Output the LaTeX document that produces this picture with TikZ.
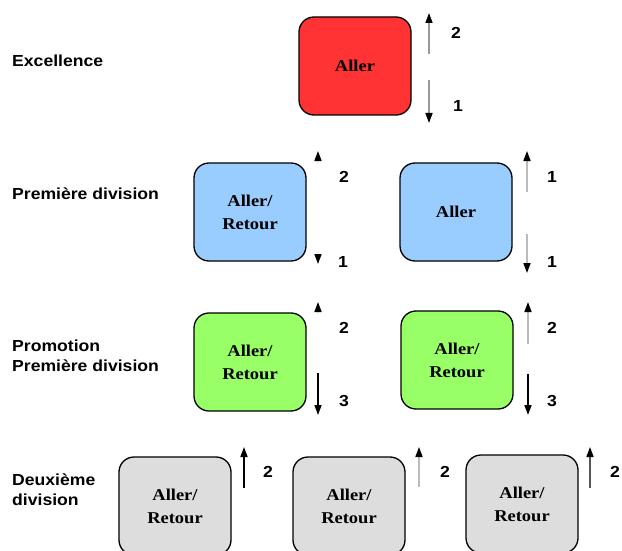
\documentclass[tikz,border=0pt]{standalone}
\usepackage{fontspec}
\setmainfont[FakeStretch=1.12]{Liberation Serif}
\newfontfamily\lsans[FakeStretch=1.1]{Liberation Sans}
\usetikzlibrary{arrows.meta}
\definecolor{boxred}{HTML}{FF3333}
\definecolor{boxblue}{HTML}{99CCFF}
\definecolor{boxgreen}{HTML}{99FF66}
\definecolor{boxgray}{HTML}{DDDDDD}
\definecolor{shaftgray}{HTML}{999999}
\definecolor{shaftlight}{HTML}{BBBBBB}
\definecolor{shaftfaint}{HTML}{F4F4F4}
\definecolor{shaftdark}{HTML}{555555}
\begin{document}
\begin{tikzpicture}[x=1pt,y=-1pt,
 box/.style={draw=black, line width=1.3pt, rounded corners=15pt, minimum width=112pt, minimum height=98pt, inner sep=0pt, align=center, font=\fontsize{16.5}{23}\selectfont\bfseries},
 lvl/.style={anchor=west, align=left, inner sep=0pt, font=\lsans\fontsize{16}{20}\selectfont\bfseries},
 num/.style={inner sep=0pt, font=\lsans\fontsize{16}{17}\selectfont\bfseries},
 mv/.style={line width=1.6pt, -{Triangle[length=10pt,width=7pt,color=black]}}
]
\clip (0,0) rectangle (622,551);
\fill[white] (0,0) rectangle (622,551);

% level labels
\node[lvl] (l1) at (12,61) {Excellence};
\node[lvl] (l2) at (12,194) {Première division};
\node[lvl] (l3) at (12,356) {Promotion\\Première division};
\node[lvl] (l4) at (12,490) {Deuxième\\division};

% boxes
\node[box, fill=boxred] (r) at (355,66) {Aller};
\node[box, fill=boxblue] (b1) at (250,212) {Aller/\\Retour};
\node[box, fill=boxblue] (b2) at (456,212) {Aller};
\node[box, fill=boxgreen] (g1) at (250,362) {Aller/\\Retour};
\node[box, fill=boxgreen] (g2) at (457,360) {Aller/\\Retour};
\node[box, fill=boxgray] (d1) at (175,506) {Aller/\\Retour};
\node[box, fill=boxgray] (d2) at (349,506) {Aller/\\Retour};
\node[box, fill=boxgray] (d3) at (522,504) {Aller/\\Retour};

% arrow end points
\coordinate (ru0) at (429,54);  \coordinate (ru1) at (429,13);
\coordinate (rd0) at (429,80);  \coordinate (rd1) at (429,123);
\coordinate (b1u0) at (318,165); \coordinate (b1u1) at (318,151);
\coordinate (b1d0) at (318,252); \coordinate (b1d1) at (318,264);
\coordinate (b2u0) at (527,192); \coordinate (b2u1) at (527,151);
\coordinate (b2d0) at (527,234); \coordinate (b2d1) at (527,273);
\coordinate (g1u0) at (318,315); \coordinate (g1u1) at (318,302);
\coordinate (g1d0) at (318,373); \coordinate (g1d1) at (318,415);
\coordinate (g2u0) at (528,344); \coordinate (g2u1) at (528,302);
\coordinate (g2d0) at (528,374); \coordinate (g2d1) at (528,415);
\coordinate (d1u0) at (244,488); \coordinate (d1u1) at (244,447);
\coordinate (d2u0) at (419,487); \coordinate (d2u1) at (419,447);
\coordinate (d3u0) at (590,488); \coordinate (d3u1) at (590,447);

% arrows
\draw[mv, shaftgray] (ru0) -- (ru1);
\draw[mv, shaftgray] (rd0) -- (rd1);
\draw[mv, shaftfaint] (b1u0) -- (b1u1);
\draw[mv, shaftfaint] (b1d0) -- (b1d1);
\draw[mv, shaftlight] (b2u0) -- (b2u1);
\draw[mv, shaftlight] (b2d0) -- (b2d1);
\draw[mv, shaftfaint] (g1u0) -- (g1u1);
\draw[mv, black] (g1d0) -- (g1d1);
\draw[mv, shaftlight] (g2u0) -- (g2u1);
\draw[mv, black] (g2d0) -- (g2d1);
\draw[mv, black] (d1u0) -- (d1u1);
\draw[mv, shaftlight] (d2u0) -- (d2u1);
\draw[mv, shaftdark] (d3u0) -- (d3u1);

% numbers
\node[num] (n1) at (456,33) {2};
\node[num] (n2) at (458,106) {1};
\node[num] (n3) at (344,177) {2};
\node[num] (n4) at (343,262) {1};
\node[num] (n5) at (552,177) {1};
\node[num] (n6) at (552,262) {1};
\node[num] (n7) at (344,328) {2};
\node[num] (n8) at (344,401) {3};
\node[num] (n9) at (552,328) {2};
\node[num] (n10) at (552,401) {3};
\node[num] (n11) at (268,472) {2};
\node[num] (n12) at (445,472) {2};
\node[num] (n13) at (615,472) {2};
\end{tikzpicture}
\end{document}
